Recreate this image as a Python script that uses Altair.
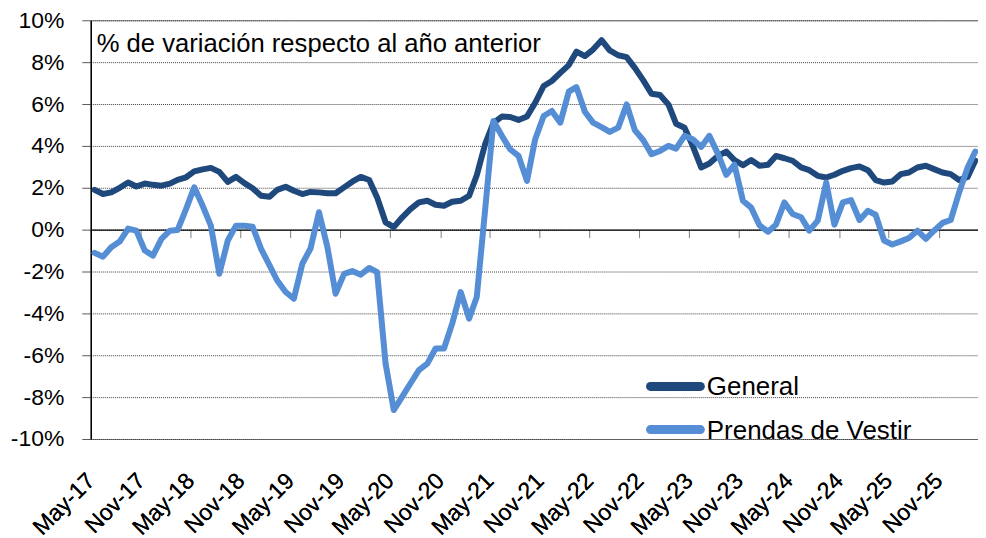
import altair as alt
import pandas as pd

# Year-on-year % change, monthly from May-17 to Mar-26
general = [1.9, 1.7, 1.78, 2.0, 2.25, 2.06, 2.2, 2.14, 2.1, 2.2,
           2.38, 2.5, 2.78, 2.88, 2.95, 2.76, 2.28, 2.52, 2.22, 1.98,
           1.62, 1.57, 1.9, 2.05, 1.86, 1.7, 1.8, 1.78, 1.74, 1.74,
           2.02, 2.29, 2.52, 2.37, 1.54, 0.35, 0.12, 0.59, 0.98, 1.3,
           1.38, 1.19, 1.14, 1.33, 1.38, 1.62, 2.6, 4.1, 5.1, 5.4,
           5.38, 5.24, 5.4, 6.06, 6.86, 7.1, 7.49, 7.86, 8.5, 8.29,
           8.6, 9.05, 8.56, 8.33, 8.24, 7.73, 7.13, 6.49, 6.43, 5.98,
           5.06, 4.87, 4.0, 2.97, 3.16, 3.52, 3.73, 3.32, 3.08, 3.33,
           3.05, 3.1, 3.52, 3.41, 3.29, 2.97, 2.84, 2.57, 2.49, 2.62,
           2.81, 2.94, 3.02, 2.84, 2.37, 2.25, 2.3, 2.65, 2.73, 2.97,
           3.05, 2.89, 2.73, 2.65, 2.37, 2.52, 3.29]
prendas = [-1.11, -1.29, -0.84, -0.57, 0.05, -0.05, -1.0, -1.24, -0.44, -0.05,
           -0.02, 0.98, 2.02, 1.14, 0.19, -2.11, -0.52, 0.19, 0.19, 0.14,
           -0.92, -1.71, -2.43, -2.98, -3.3, -1.63, -0.9, 0.83, -0.84, -3.06,
           -2.11, -1.98, -2.15, -1.83, -2.03, -6.4, -8.62, -7.98, -7.35, -6.71,
           -6.4, -5.68, -5.68, -4.49, -2.98, -4.25, -3.22, 1.0, 5.19, 4.48,
           3.84, 3.52, 2.33, 4.32, 5.43, 5.67, 5.11, 6.59, 6.81, 5.63,
           5.11, 4.9, 4.67, 4.87, 5.98, 4.75, 4.27, 3.6, 3.76, 4.0,
           3.87, 4.48, 4.32, 3.95, 4.48, 3.63, 2.62, 3.1, 1.38, 1.05,
           0.2, -0.1, 0.24, 1.3, 0.75, 0.59, -0.05, 0.43, 2.25, 0.24,
           1.3, 1.41, 0.46, 0.9, 0.71, -0.52, -0.71, -0.56, -0.4, -0.05,
           -0.44, -0.05, 0.32, 0.46, 1.78, 2.97, 3.73]

series_names = ["General", "Prendas de Vestir"]
series_colors = ["#1F497D", "#558ED5"]
legend_rows = [-7.49, -9.55]   # vertical place of each legend entry, in axis units
annotation = "% de variación respecto al año anterior"
y_ticks = [-10, -8, -6, -4, -2, 0, 2, 4, 6, 8, 10]

n = len(general)
dates = (pd.date_range("2017-05-01", periods=n, freq="MS")
         + pd.Timedelta(days=14)).strftime("%Y-%m-%d").tolist()

df_g = pd.DataFrame({"fecha": dates, "valor": general, "serie": series_names[0]})
df_p = pd.DataFrame({"fecha": dates, "valor": prendas, "serie": series_names[1]})
df_leg = pd.DataFrame({"serie": series_names, "valor": legend_rows})

tick_dates = [alt.DateTime(year=2017 + (4 + 6 * k) // 12, month=(4 + 6 * k) % 12 + 1,
                           date=1, utc=True) for k in range(18)]

xscale = alt.Scale(type="utc", domain=[alt.DateTime(year=2017, month=5, date=1, utc=True),
                                        alt.DateTime(year=2026, month=3, date=25, utc=True)])
yscale = alt.Scale(domain=[-10, 10], nice=False, zero=False)
cscale = alt.Scale(domain=series_names, range=series_colors)

FONT = "Liberation Sans"

x_main = alt.X("fecha:T", scale=xscale, title=None,
               axis=alt.Axis(values=tick_dates,
                             labelExpr="utcFormat(datum.value, '%b-%y')",
                             labelAngle=-45, labelAlign="right", labelBaseline="middle",
                             labelFontSize=23, labelFont=FONT, labelColor="black",
                             ticks=False, tickSize=0, domain=False, grid=False,
                             labelPadding=38, labelOffset=0, labelOverlap=False,
                             labelFlush=False, labelBound=False, orient="bottom"))
x_zero = alt.X("fecha:T", scale=xscale, title=None,
               axis=alt.Axis(values=tick_dates, orient="bottom", offset=-210,
                             labels=False, ticks=True, tickSize=8, tickColor="#808080",
                             tickWidth=1, domain=True, domainColor="black",
                             domainWidth=1.3, grid=False))
y_enc = alt.Y("valor:Q", scale=yscale, title=None,
              axis=alt.Axis(values=y_ticks, labelExpr="datum.value + '%'",
                            labelFontSize=23, labelFont=FONT, labelColor="black",
                            tickSize=9, tickColor="#595959", tickWidth=1,
                            domainColor="black", domainWidth=1.5,
                            gridColor="#404040", gridDash=[1, 1], gridWidth=1,
                            labelPadding=18))
color_enc = alt.Color("serie:N", scale=cscale, legend=None)

line_style = dict(strokeWidth=6, strokeJoin="round", strokeCap="round")

zero_layer = alt.Chart(df_g).mark_line(opacity=0).encode(x=x_zero, y=y_enc)
g_layer = alt.Chart(df_g).mark_line(**line_style).encode(x=x_main, y=y_enc, color=color_enc)
p_layer = alt.Chart(df_p).mark_line(**line_style).encode(x=x_main, y=y_enc, color=color_enc)
text_layer = alt.Chart(pd.DataFrame({"t": [annotation]})).mark_text(
    align="left", baseline="alphabetic", fontSize=25.7, font=FONT, color="black"
).encode(x=alt.value(6), y=alt.value(31.5), text="t:N")

# legend drawn inside the plot, as in the reference
leg_sym = alt.Chart(df_leg).mark_rule(strokeWidth=9, strokeCap="round").encode(
    x=alt.value(561.5), x2=alt.value(611.5), y=y_enc, color=color_enc)
leg_txt = alt.Chart(df_leg).mark_text(
    align="left", baseline="middle", fontSize=26, font=FONT, color="black", dy=1
).encode(x=alt.value(618), y=y_enc, text="serie:N")

chart = alt.layer(zero_layer, g_layer, p_layer, text_layer, leg_sym, leg_txt).resolve_axis(
    x="independent"
).properties(
    width=890, height=420, autosize="none",
    padding={"left": 83, "top": 11.5, "right": 0, "bottom": 100}
).configure_view(stroke="#808080", strokeWidth=1)

chart.save("out.html", embed_options={"renderer": "svg", "actions": False})
